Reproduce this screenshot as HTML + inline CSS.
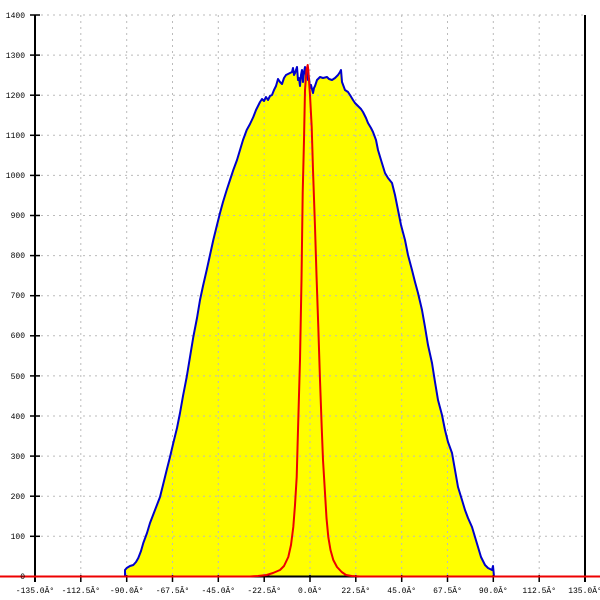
<!DOCTYPE html>
<html><head><meta charset="utf-8"><style>
html,body{margin:0;padding:0;background:#fff;}
svg{display:block;}
text{font-family:"Liberation Mono",monospace;font-size:8px;fill:#000;}
</style></head><body>
<svg width="600" height="600" viewBox="0 0 600 600" xmlns="http://www.w3.org/2000/svg">
<rect width="600" height="600" fill="#fff"/>
<!-- yellow fill -->
<polygon fill="#ffff00" points="125,576.5 125,570 126.7,568 130,566 133.3,565 136,562 138.3,558 141,551 143.3,543 147,533 150,523 155,510 160,497 163,485 166.7,470 170,457 173.3,443 177,428 180,413 183,396 186.7,377 190,357 193.3,337 197,318 200,300 203,286 206.7,270 210,255 213.3,240 217,225 220,213 223,202 226.7,190 230,180 233.3,170 237,160 240,150 243,140 246.7,130 250,124 253.3,117 256,110 258,106 260,102 262,99 264,101 266,97 268,100 270,96 272,95 274,90 276,86 278,79 280,82 282,84 284,78 286,75 288,74 290,73 292,72 293,68 294,75 295,73 296,70 297,67 298,80 299,78 300,86 301,75 302,70 303,82 304,72 305,67 306,75 307,72 308,80 309,78 310,88 311,85 313,93 314,88 315,86 317,80 320,77 323,78 327,77 329,79 332,80 335,78 338,75 340,72 341,70 342,82 345,90 348,92 350,95 353,100 355,103 358,106 361,109 363,112 366,118 368,123 371,128 373,132 376,140 378,150 381,160 385,173 388,178 392,183 395,195 398,210 401,225 405,240 408,255 412,270 415,282 418,293 422,310 425,327 428,345 432,363 435,382 438,400 442,415 445,430 448,442 452,453 455,470 458,487 462,500 465,510 468,518 472,527 475,537 478,547 481,557 485,565 488,568 492,570 493,566 494,576.5"/>
<!-- grid -->
<g stroke="#bbb" stroke-width="1" stroke-dasharray="2,4" fill="none">
<line x1="35" y1="15" x2="585" y2="15"/>
<line x1="35" y1="55.1" x2="585" y2="55.1"/>
<line x1="35" y1="95.2" x2="585" y2="95.2"/>
<line x1="35" y1="135.3" x2="585" y2="135.3"/>
<line x1="35" y1="175.4" x2="585" y2="175.4"/>
<line x1="35" y1="215.5" x2="585" y2="215.5"/>
<line x1="35" y1="255.6" x2="585" y2="255.6"/>
<line x1="35" y1="295.7" x2="585" y2="295.7"/>
<line x1="35" y1="335.8" x2="585" y2="335.8"/>
<line x1="35" y1="375.9" x2="585" y2="375.9"/>
<line x1="35" y1="416" x2="585" y2="416"/>
<line x1="35" y1="456.1" x2="585" y2="456.1"/>
<line x1="35" y1="496.2" x2="585" y2="496.2"/>
<line x1="35" y1="536.3" x2="585" y2="536.3"/>
<line x1="80.8" y1="15" x2="80.8" y2="576"/>
<line x1="126.7" y1="15" x2="126.7" y2="576"/>
<line x1="172.5" y1="15" x2="172.5" y2="576"/>
<line x1="218.3" y1="15" x2="218.3" y2="576"/>
<line x1="264.2" y1="15" x2="264.2" y2="576"/>
<line x1="310" y1="15" x2="310" y2="576"/>
<line x1="355.8" y1="15" x2="355.8" y2="576"/>
<line x1="401.7" y1="15" x2="401.7" y2="576"/>
<line x1="447.5" y1="15" x2="447.5" y2="576"/>
<line x1="493.3" y1="15" x2="493.3" y2="576"/>
<line x1="539.2" y1="15" x2="539.2" y2="576"/>
</g>
<!-- blue outline -->
<polyline fill="none" stroke="#0000cc" stroke-width="2" stroke-linejoin="round" points="125,576.5 125,570 126.7,568 130,566 133.3,565 136,562 138.3,558 141,551 143.3,543 147,533 150,523 155,510 160,497 163,485 166.7,470 170,457 173.3,443 177,428 180,413 183,396 186.7,377 190,357 193.3,337 197,318 200,300 203,286 206.7,270 210,255 213.3,240 217,225 220,213 223,202 226.7,190 230,180 233.3,170 237,160 240,150 243,140 246.7,130 250,124 253.3,117 256,110 258,106 260,102 262,99 264,101 266,97 268,100 270,96 272,95 274,90 276,86 278,79 280,82 282,84 284,78 286,75 288,74 290,73 292,72 293,68 294,75 295,73 296,70 297,67 298,80 299,78 300,86 301,75 302,70 303,82 304,72 305,67 306,75 307,72 308,80 309,78 310,88 311,85 313,93 314,88 315,86 317,80 320,77 323,78 327,77 329,79 332,80 335,78 338,75 340,72 341,70 342,82 345,90 348,92 350,95 353,100 355,103 358,106 361,109 363,112 366,118 368,123 371,128 373,132 376,140 378,150 381,160 385,173 388,178 392,183 395,195 398,210 401,225 405,240 408,255 412,270 415,282 418,293 422,310 425,327 428,345 432,363 435,382 438,400 442,415 445,430 448,442 452,453 455,470 458,487 462,500 465,510 468,518 472,527 475,537 478,547 481,557 485,565 488,568 492,570 493,566 494,576.5"/>
<!-- axes -->
<g stroke="#000" stroke-width="2">
<line x1="35" y1="15" x2="35" y2="582"/>
<line x1="585" y1="15" x2="585" y2="582"/>
<line x1="35" y1="576.5" x2="585" y2="576.5"/>
</g>
<g stroke="#000" stroke-width="1.5">
<line x1="30" y1="15" x2="40" y2="15"/>
<line x1="30" y1="55.1" x2="40" y2="55.1"/>
<line x1="30" y1="95.2" x2="40" y2="95.2"/>
<line x1="30" y1="135.3" x2="40" y2="135.3"/>
<line x1="30" y1="175.4" x2="40" y2="175.4"/>
<line x1="30" y1="215.5" x2="40" y2="215.5"/>
<line x1="30" y1="255.6" x2="40" y2="255.6"/>
<line x1="30" y1="295.7" x2="40" y2="295.7"/>
<line x1="30" y1="335.8" x2="40" y2="335.8"/>
<line x1="30" y1="375.9" x2="40" y2="375.9"/>
<line x1="30" y1="416" x2="40" y2="416"/>
<line x1="30" y1="456.1" x2="40" y2="456.1"/>
<line x1="30" y1="496.2" x2="40" y2="496.2"/>
<line x1="30" y1="536.3" x2="40" y2="536.3"/>
<line x1="30" y1="576.5" x2="40" y2="576.5"/>
<line x1="80.8" y1="575" x2="80.8" y2="582"/>
<line x1="126.7" y1="575" x2="126.7" y2="582"/>
<line x1="172.5" y1="575" x2="172.5" y2="582"/>
<line x1="218.3" y1="575" x2="218.3" y2="582"/>
<line x1="264.2" y1="575" x2="264.2" y2="582"/>
<line x1="310" y1="575" x2="310" y2="582"/>
<line x1="355.8" y1="575" x2="355.8" y2="582"/>
<line x1="401.7" y1="575" x2="401.7" y2="582"/>
<line x1="447.5" y1="575" x2="447.5" y2="582"/>
<line x1="493.3" y1="575" x2="493.3" y2="582"/>
<line x1="539.2" y1="575" x2="539.2" y2="582"/>
</g>
<!-- red series -->
<polyline fill="none" stroke="#ee0000" stroke-width="2" stroke-linejoin="round" points="0,576.5 250,576.5 258,576 266.7,575 273,573 280,570 284,566 288.3,557 291,545 293.3,527 295,505 296.7,477 298,430 300,360 301.5,280 302.7,193 304,140 305,90 306.5,70 307.7,65 308.3,70 310,95 311.7,127 313,170 315,227 316.5,275 318.3,327 320,380 321.7,427 323,460 325,493 326.5,518 328.3,537 330.5,550 333.3,560 337,567 341.7,572 346,575 351.7,576 360,576.5 600,576.5"/>
<!-- y labels -->
<g text-anchor="end">
<text x="25" y="18">1400</text>
<text x="25" y="58">1300</text>
<text x="25" y="98">1200</text>
<text x="25" y="138">1100</text>
<text x="25" y="178">1000</text>
<text x="25" y="218">900</text>
<text x="25" y="258">800</text>
<text x="25" y="298">700</text>
<text x="25" y="338">600</text>
<text x="25" y="379">500</text>
<text x="25" y="419">400</text>
<text x="25" y="459">300</text>
<text x="25" y="499">200</text>
<text x="25" y="539">100</text>
<text x="25" y="579">0</text>
</g>
<!-- x labels -->
<g text-anchor="middle">
<text x="35" y="593">-135.0Â°</text>
<text x="80.8" y="593">-112.5Â°</text>
<text x="126.7" y="593">-90.0Â°</text>
<text x="172.5" y="593">-67.5Â°</text>
<text x="218.3" y="593">-45.0Â°</text>
<text x="264.2" y="593">-22.5Â°</text>
<text x="310" y="593">0.0Â°</text>
<text x="355.8" y="593">22.5Â°</text>
<text x="401.7" y="593">45.0Â°</text>
<text x="447.5" y="593">67.5Â°</text>
<text x="493.3" y="593">90.0Â°</text>
<text x="539.2" y="593">112.5Â°</text>
<text x="585" y="593">135.0Â°</text>
</g>
</svg>
</body></html>
